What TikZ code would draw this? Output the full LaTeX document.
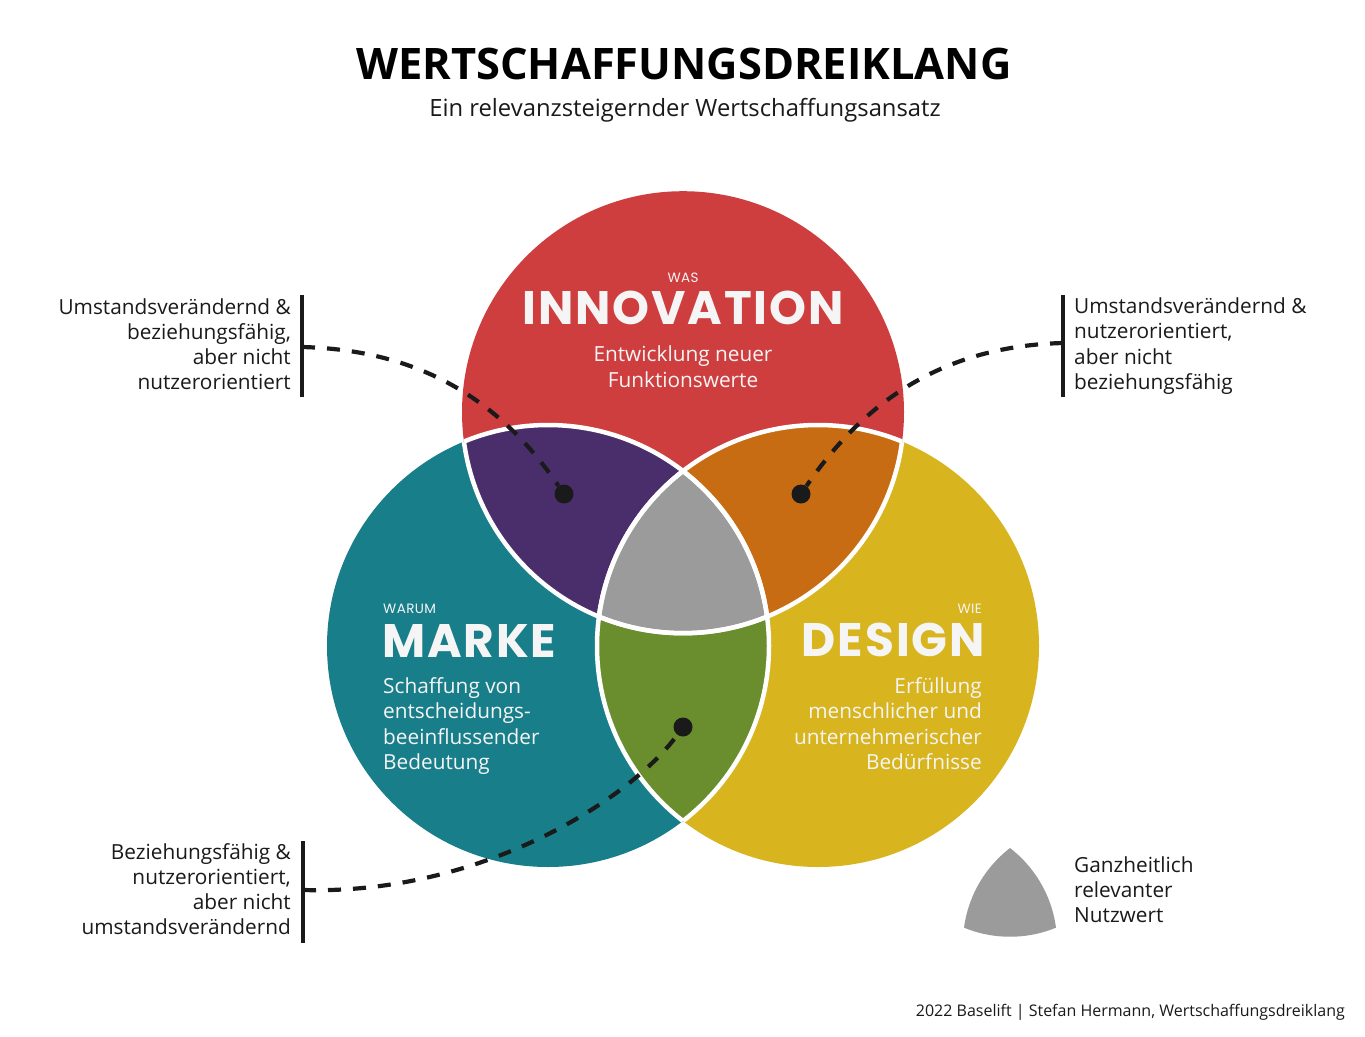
\documentclass[tikz,border=0pt]{standalone}
\usepackage{fontspec}
\setmainfont{Open Sans}
\newfontfamily\headfont{Poppins}[LetterSpace=4]
\newfontfamily\smallfont{Poppins}[LetterSpace=3]
\definecolor{cred}{RGB}{206,62,63}
\definecolor{cteal}{RGB}{24,126,138}
\definecolor{cyellow}{RGB}{216,180,30}
\definecolor{cpurple}{RGB}{74,46,107}
\definecolor{corange}{RGB}{200,108,20}
\definecolor{cgreen}{RGB}{106,142,46}
\definecolor{cgray}{RGB}{155,155,155}
\definecolor{cdark}{RGB}{26,26,26}
\definecolor{cwhite}{RGB}{245,245,245}
\tikzset{
  lbl/.style={font=\fontsize{20.8}{25.3}\selectfont, text=cdark, inner sep=0pt},
  body/.style={font=\fontsize{20.8}{25.4}\selectfont, text=cwhite, inner sep=0pt},
  heading/.style={font=\headfont\bfseries\fontsize{47}{47}\selectfont, text=cwhite, inner sep=0pt},
  small/.style={font=\smallfont\fontsize{13.5}{13.5}\selectfont, text=cwhite, inner sep=0pt},
  bracket/.style={draw=cdark, line width=4pt},
  conn/.style={draw=cdark, line width=4.2pt, dash pattern=on 13pt off 12pt},
  dotnode/.style={circle, fill=cdark, minimum size=19pt, inner sep=0pt},
  sep/.style={draw=white, line width=4.5pt},
}
\begin{document}
\begin{tikzpicture}[x=1pt,y=-1pt]
\useasboundingbox[fill=white] (0,0) rectangle (1365,1036);
\coordinate (T) at (683,412.2);
\coordinate (L) at (548,646);
\coordinate (R) at (818,646);
% circles
\fill[cred] (T) circle[radius=221];
\fill[cteal] (L) circle[radius=221];
\fill[cyellow] (R) circle[radius=221];
\begin{scope}\clip (L) circle[radius=221]; \fill[cpurple] (T) circle[radius=221];\end{scope}
\begin{scope}\clip (R) circle[radius=221]; \fill[corange] (T) circle[radius=221];\end{scope}
\begin{scope}\clip (L) circle[radius=221]; \fill[cgreen] (R) circle[radius=221];\end{scope}
\begin{scope}\clip (L) circle[radius=221]; \clip (R) circle[radius=221]; \fill[cgray] (T) circle[radius=221];\end{scope}
% white separators
\begin{scope}\clip (L) circle[radius=221]; \draw[sep] (T) circle[radius=221]; \draw[sep] (R) circle[radius=221];\end{scope}
\begin{scope}\clip (R) circle[radius=221]; \draw[sep] (T) circle[radius=221]; \draw[sep] (L) circle[radius=221];\end{scope}
\begin{scope}\clip (T) circle[radius=221]; \draw[sep] (L) circle[radius=221]; \draw[sep] (R) circle[radius=221];\end{scope}
% title
\node[font=\fontsize{43.4}{48}\selectfont\bfseries, text=black, anchor=base, inner sep=0pt] (title) at (684,79) {WERTSCHAFFUNGSDREIKLANG};
\node[font=\fontsize{23.8}{28}\selectfont, text=cdark, anchor=base, inner sep=0pt] (subtitle) at (685,116) {Ein relevanzsteigernder Wertschaffungsansatz};
% circle texts
\node[small, anchor=base] (was) at (683,282) {WAS};
\node[heading, anchor=base] (innov) at (683,324) {INNOVATION};
\node[body, anchor=base] (inn1) at (683,361.5) {Entwicklung neuer};
\node[body, anchor=base] (inn2) at (683,387) {Funktionswerte};
\node[small, anchor=base west] (warum) at (383,613) {WARUM};
\node[heading, anchor=base west] (marke) at (382,657) {MARKE};
\node[body, anchor=base west] (m1) at (383,693) {Schaffung von};
\node[body, anchor=base west] (m2) at (383,718.5) {entscheidungs-};
\node[body, anchor=base west] (m3) at (383,744) {beeinflussender};
\node[body, anchor=base west] (m4) at (383,769.5) {Bedeutung};
\node[small, anchor=base east] (wie) at (982,613) {WIE};
\node[heading, anchor=base east] (design) at (985,656) {DESIGN};
\node[body, anchor=base east] (d1) at (982,693) {Erfüllung};
\node[body, anchor=base east] (d2) at (982,718.5) {menschlicher und};
\node[body, anchor=base east] (d3) at (982,744) {unternehmerischer};
\node[body, anchor=base east] (d4) at (982,769.5) {Bedürfnisse};
% side labels
\node[lbl, anchor=base east] (tl1) at (291,314) {Umstandsverändernd \&};
\node[lbl, anchor=base east] (tl2) at (291,339.3) {beziehungsfähig,};
\node[lbl, anchor=base east] (tl3) at (291,364.6) {aber nicht};
\node[lbl, anchor=base east] (tl4) at (291,389.9) {nutzerorientiert};
\node[lbl, anchor=base west] (tr1) at (1074,313.5) {Umstandsverändernd \&};
\node[lbl, anchor=base west] (tr2) at (1074,338.8) {nutzerorientiert,};
\node[lbl, anchor=base west] (tr3) at (1074,364.1) {aber nicht};
\node[lbl, anchor=base west] (tr4) at (1074,389.4) {beziehungsfähig};
\node[lbl, anchor=base east] (bl1) at (291,859) {Beziehungsfähig \&};
\node[lbl, anchor=base east] (bl2) at (291,884.3) {nutzerorientiert,};
\node[lbl, anchor=base east] (bl3) at (291,909.6) {aber nicht};
\node[lbl, anchor=base east] (bl4) at (291,934.9) {umstandsverändernd};
\node[lbl, anchor=base west] (lg1) at (1074,872) {Ganzheitlich};
\node[lbl, anchor=base west] (lg2) at (1074,897.3) {relevanter};
\node[lbl, anchor=base west] (lg3) at (1074,922.6) {Nutzwert};
% brackets
\coordinate (tlTop) at (302,295); \coordinate (tlBot) at (302,397); \coordinate (tlb) at (302,347);
\coordinate (trTop) at (1063,295); \coordinate (trBot) at (1063,397); \coordinate (trb) at (1063,343);
\coordinate (blTop) at (303,841); \coordinate (blBot) at (303,943); \coordinate (blb) at (303,890);
\draw[bracket] (tlTop) -- (tlBot);
\draw[bracket] (trTop) -- (trBot);
\draw[bracket] (blTop) -- (blBot);
% dots
\node[dotnode] (dotP) at (564,494) {};
\node[dotnode] (dotO) at (801,494) {};
\node[dotnode] (dotG) at (683,727) {};
% connectors
\draw[conn] (tlb) .. controls (420,350) and (500,400) .. (dotP);
\draw[conn] (trb) .. controls (945,346) and (865,400) .. (dotO);
\draw[conn] (blb) .. controls (480,895) and (630,800) .. (dotG);
% legend shape
\begin{scope}[shift={(1010,848)}, scale=0.547, shift={(-683,-471)}]
  \clip (548,646) circle[radius=221];
  \clip (818,646) circle[radius=221];
  \fill[cgray] (683,412.2) circle[radius=221];
\end{scope}
% footer
\node[font=\fontsize{16}{19}\selectfont, text=cdark, anchor=base east, inner sep=0pt] (footer) at (1345,1016) {2022 Baselift | Stefan Hermann, Wertschaffungsdreiklang};
\end{tikzpicture}
\end{document}
